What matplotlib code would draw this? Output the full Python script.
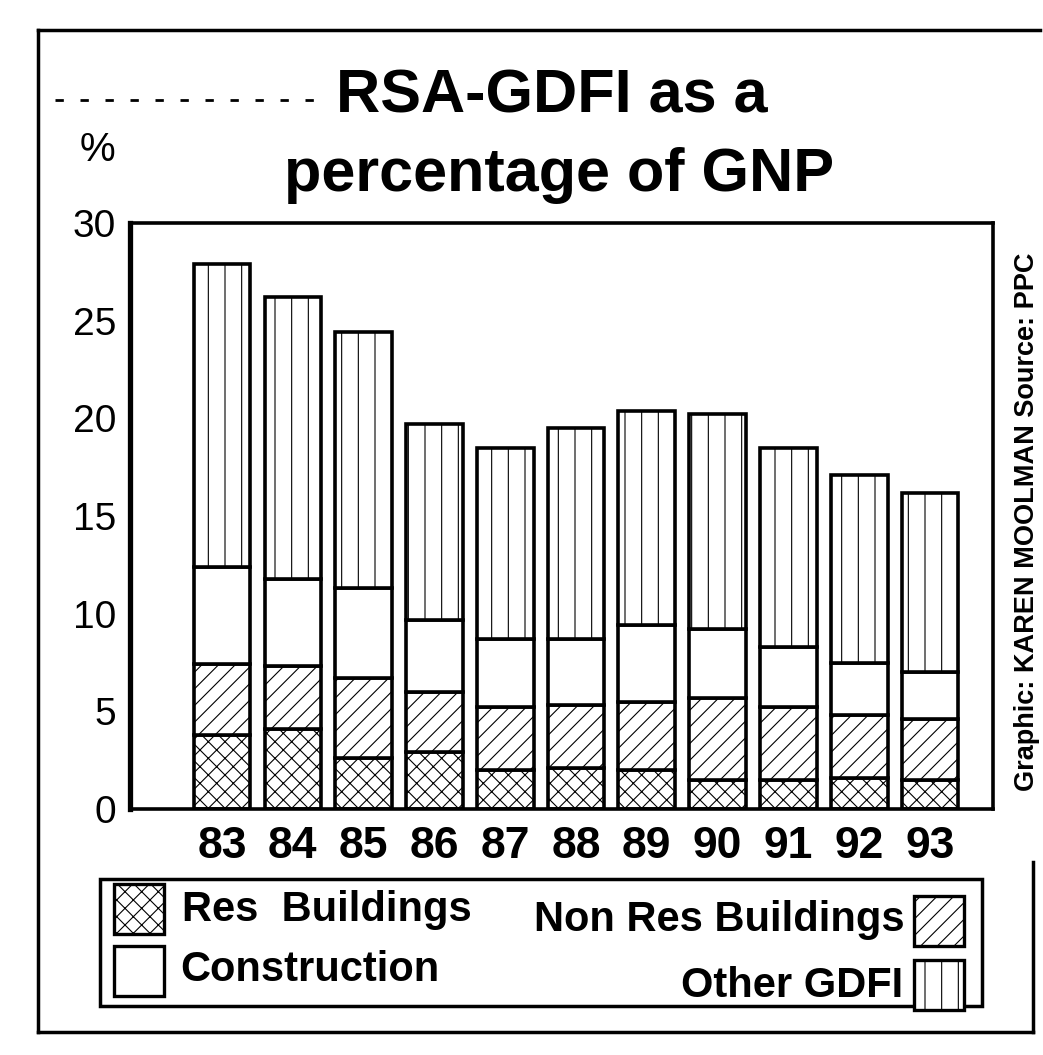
import matplotlib
matplotlib.use("Agg")
import matplotlib.pyplot as plt
from matplotlib.patches import Rectangle
from matplotlib.lines import Line2D

# RSA gross domestic fixed investment as % of GNP, by component
years = ['83', '84', '85', '86', '87', '88', '89', '90', '91', '92', '93']
res_buildings = [3.8, 4.1, 2.6, 2.9, 2.0, 2.1, 2.0, 1.5, 1.5, 1.6, 1.5]
non_res_buildings = [3.6, 3.2, 4.1, 3.1, 3.2, 3.2, 3.5, 4.2, 3.7, 3.2, 3.1]
construction = [5.0, 4.5, 4.6, 3.7, 3.5, 3.4, 3.9, 3.5, 3.1, 2.7, 2.4]
other_gdfi = [15.5, 14.4, 13.1, 10.0, 9.8, 10.8, 11.0, 11.0, 10.2, 9.6, 9.2]
y_ticks = [0, 5, 10, 15, 20, 25, 30]

plt.rcParams['font.family'] = ['Liberation Sans', 'DejaVu Sans']
plt.rcParams['hatch.linewidth'] = 0.8

W, H = 1043, 1055
fig = plt.figure(figsize=(W / 100, H / 100), dpi=100)


def fx(x):
    return x / W


def fy(y):
    return 1 - y / H


ax = fig.add_axes([fx(130), fy(809), fx(993) - fx(130), fy(223) - fy(809)])

styles = [
    (res_buildings, 'xx'),
    (non_res_buildings, '//'),
    (construction, ''),
    (other_gdfi, '|'),
]
xs = list(range(len(years)))
bottom = [0.0] * len(years)
for vals, hatch in styles:
    ax.bar(xs, vals, width=0.8, bottom=bottom, color='white',
           edgecolor='black', linewidth=2.6, hatch=hatch)
    bottom = [b + v for b, v in zip(bottom, vals)]

ax.set_xlim(-1.3, 10.89)
ax.set_ylim(0, 30)
ax.set_xticks(xs)
ax.set_xticklabels(years, fontsize=32, fontweight='bold')
ax.set_yticks(y_ticks)
ax.set_yticklabels([str(t) for t in y_ticks], fontsize=28)
ax.tick_params(axis='x', length=0, pad=12)
ax.tick_params(axis='y', length=0, pad=10)
for side in ['left', 'top', 'right', 'bottom']:
    ax.spines[side].set_linewidth(2.6)
ax.spines['left'].set_linewidth(3.8)

# title and unit
fig.text(fx(552), fy(97), 'RSA-GDFI as a', ha='center', va='center',
         fontsize=44, fontweight='bold')
fig.text(fx(559), fy(176), 'percentage of GNP', ha='center', va='center',
         fontsize=44, fontweight='bold')
fig.text(fx(97), fy(150), '%', ha='center', va='center', fontsize=29)

# credit line down the right side
fig.text(fx(1027), fy(522), 'Graphic: KAREN MOOLMAN Source: PPC', rotation=90,
         ha='center', va='center', fontsize=19.5, fontweight='bold')

# outer frame
frame = dict(color='black', linewidth=2.5, transform=fig.transFigure)
fig.add_artist(Line2D([fx(38), fx(1040)], [fy(30), fy(30)], **frame))
fig.add_artist(Line2D([fx(38), fx(38)], [fy(30), fy(1032)], **frame))
fig.add_artist(Line2D([fx(38), fx(1033)], [fy(1032), fy(1032)], **frame))
fig.add_artist(Line2D([fx(1033), fx(1033)], [fy(862), fy(1032)], **frame))
fig.add_artist(Line2D([fx(55), fx(330)], [fy(100), fy(100)], color='black',
                      linewidth=2, linestyle=(0, (3, 6)), transform=fig.transFigure))

# legend box
fig.add_artist(Rectangle((fx(100), fy(1006)), fx(982) - fx(100), fy(879) - fy(1006),
                         facecolor='none', edgecolor='black', linewidth=2.5,
                         transform=fig.transFigure))
sw = 50
legend_items = [
    ('Res  Buildings', 'xx', 114, 884, 'left', 182, 910),
    ('Construction', '', 114, 946, 'left', 180, 970),
    ('Non Res Buildings', '//', 914, 896, 'right', 905, 920),
    ('Other GDFI', '|', 914, 960, 'right', 903, 986),
]
for label, hatch, sx, sy, ha, tx, ty in legend_items:
    fig.add_artist(Rectangle((fx(sx), fy(sy + sw)), fx(sw), fy(0) - fy(sw),
                             facecolor='white', edgecolor='black', linewidth=2.4,
                             hatch=hatch, transform=fig.transFigure))
    fig.text(fx(tx), fy(ty), label, ha=ha, va='center', fontsize=30,
             fontweight='bold')

fig.savefig('out.png', dpi=100)
